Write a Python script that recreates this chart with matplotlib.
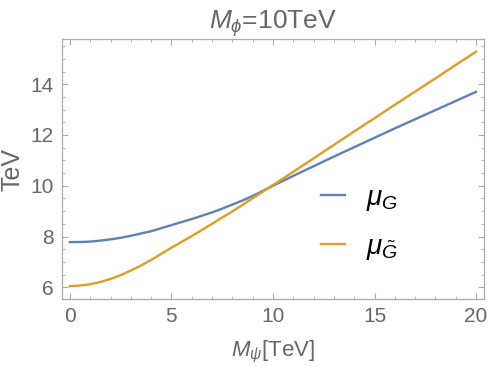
import numpy as np
import matplotlib
matplotlib.use('Agg')
import matplotlib.pyplot as plt
from matplotlib.ticker import MultipleLocator

# values (TeV)
m_psi = [0, 0.5, 1, 1.5, 2, 2.5, 3, 3.5, 4, 4.5, 5, 5.5, 6, 6.5, 7, 7.5,
         8, 8.5, 9, 9.5, 10, 11, 12, 13, 14, 15, 16, 17, 18, 19, 20]
mu_G = [7.78, 7.785, 7.80, 7.84, 7.89, 7.95, 8.03, 8.12, 8.21, 8.33, 8.45,
        8.57, 8.69, 8.82, 8.95, 9.10, 9.26, 9.42, 9.60, 9.80, 10.0,
        10.39, 10.77, 11.15, 11.52, 11.89, 12.26, 12.62, 12.98, 13.34, 13.70]
mu_Gt = [6.05, 6.07, 6.12, 6.21, 6.33, 6.48, 6.66, 6.86, 7.08, 7.32, 7.56,
         7.79, 8.02, 8.26, 8.50, 8.75, 8.99, 9.25, 9.51, 9.77, 10.03,
         10.55, 11.08, 11.61, 12.14, 12.66, 13.19, 13.71, 14.23, 14.76, 15.28]

title = r'$M_\phi$=10TeV'
xlabel = r'$M_\psi$[TeV]'
ylabel = 'TeV'
labels = [r'$\mu_G$', r'$\mu_{\tilde{G}}$']

BLUE = '#5E81B5'
ORANGE = '#E19C24'
GRAY = '#666666'
FRAME = '#AAAAAA'

plt.rcParams['font.family'] = ['Liberation Sans', 'DejaVu Sans']
plt.rcParams['mathtext.fontset'] = 'custom'
plt.rcParams['mathtext.rm'] = 'Liberation Sans'
plt.rcParams['mathtext.it'] = 'Liberation Sans:italic'

fig = plt.figure(figsize=(4.91, 3.67), dpi=100)
ax = fig.add_axes([0.1263, 0.1853, 0.8594, 0.7084])

ax.plot(m_psi, mu_G, color=BLUE, lw=1.7, label=labels[0])
ax.plot(m_psi, mu_Gt, color=ORANGE, lw=1.7, label=labels[1])

ax.set_xlim(-0.39, 20.39)
ax.set_ylim(5.54, 15.78)

ax.xaxis.set_major_locator(MultipleLocator(5))
ax.xaxis.set_minor_locator(MultipleLocator(1))
ax.yaxis.set_major_locator(MultipleLocator(2))
ax.yaxis.set_minor_locator(MultipleLocator(0.5))
ax.tick_params(which='both', direction='in', top=True, right=True,
               color=FRAME, labelcolor=GRAY, labelsize=15)
ax.tick_params(which='major', length=4.5, width=0.8, pad=6)
ax.tick_params(which='minor', length=2.5, width=0.6)
for s in ax.spines.values():
    s.set_color(FRAME)
    s.set_linewidth(0.9)

ax.set_title(title, color=GRAY, fontsize=19, pad=6)
ax.set_xlabel(xlabel, color=GRAY, fontsize=16, labelpad=9)
ax.set_ylabel(ylabel, color=GRAY, fontsize=18, labelpad=4)

leg = ax.legend(loc='center left', bbox_to_anchor=(0.555, 0.29), frameon=False,
                fontsize=20, handlelength=0.87, handletextpad=0.75,
                labelspacing=0.75)

fig.savefig('out.png', dpi=100)
